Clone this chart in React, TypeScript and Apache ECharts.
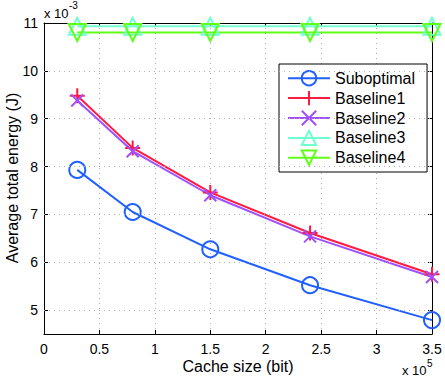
import React, { useEffect, useRef } from "react";
import * as echarts from "echarts";

const cacheSizes = [0.3, 0.8, 1.5, 2.4, 3.5];
const suboptimal = [7.93, 7.05, 6.27, 5.52, 4.79];
const baseline1 = [9.48, 8.39, 7.46, 6.61, 5.75];
const baseline2 = [9.38, 8.32, 7.4, 6.54, 5.69];
const baseline3 = [10.93, 10.93, 10.93, 10.93, 10.93];
const baseline4 = [10.8, 10.8, 10.8, 10.8, 10.8];
const seriesNames = ["Suboptimal", "Baseline1", "Baseline2", "Baseline3", "Baseline4"];
const xTicks = [0, 0.5, 1, 1.5, 2, 2.5, 3, 3.5];
const yTicks = [5, 6, 7, 8, 9, 10, 11];

const FONT = "Liberation Sans, Arial, Helvetica, sans-serif";

const PLUS = "path://M5,0L5,10M0,5L10,5";
const CROSS = "path://M0,0L10,10M10,0L0,10";

export default function App() {
  const ref = useRef<HTMLDivElement>(null);
  useEffect(() => {
    if (!ref.current) return;
    const chart = echarts.init(ref.current, null, { renderer: "svg" });
    const mk = (name: string, data: number[], color: string, symbol: string, size: number, rotate = 0) => ({
      name,
      type: "line",
      data: cacheSizes.map((x, i) => [x, data[i]]),
      symbol,
      symbolSize: size,
      symbolRotate: rotate,
      showAllSymbol: true,
      lineStyle: { color, width: 2 },
      itemStyle: { color: "rgba(0,0,0,0)", borderColor: color, borderWidth: 2 },
      emphasis: { disabled: true },
      z: 3,
    });
    const gridLine = { show: true, lineStyle: { color: "#b0b0b0", type: [1, 4], width: 1 } };
    const yAxisBase = {
      type: "value",
      min: 4.5,
      max: 11,
      axisLine: { onZero: false, lineStyle: { color: "#000", width: 1 } },
      axisTick: { inside: true, length: 4, lineStyle: { color: "#000" }, customValues: yTicks },
      splitLine: { show: false },
    };
    const txt = (text: string, x: number, y: number, size: number, align = "left") => ({
      type: "text",
      x,
      y,
      style: { text, fontSize: size, fontFamily: FONT, fill: "#000", align, verticalAlign: "middle" },
    });
    chart.setOption({
      animation: false,
      backgroundColor: "#ffffff",
      grid: { left: 44, right: 13, top: 23, bottom: 44, containLabel: false },
      xAxis: [
        {
          type: "value",
          min: xTicks[0],
          max: xTicks[xTicks.length - 1],
          interval: 0.5,
          axisLine: { onZero: false, lineStyle: { color: "#000", width: 1 } },
          axisTick: { inside: true, length: 4, lineStyle: { color: "#000" } },
          axisLabel: { color: "#000", fontSize: 14, fontFamily: FONT, margin: 8 },
          splitLine: gridLine,
        },
        {
          type: "value",
          position: "top",
          min: xTicks[0],
          max: xTicks[xTicks.length - 1],
          interval: 0.5,
          axisLine: { onZero: false, lineStyle: { color: "#000", width: 1 } },
          axisTick: { inside: true, length: 4, lineStyle: { color: "#000" } },
          axisLabel: { show: false },
          splitLine: { show: false },
        },
      ],
      yAxis: [
        {
          ...yAxisBase,
          axisLabel: {
            color: "#000",
            fontSize: 14,
            fontFamily: FONT,
            margin: 6,
            customValues: yTicks,
          },
        },
        {
          ...yAxisBase,
          position: "right",
          axisLabel: { show: false },
        },
      ],
      legend: {
        data: seriesNames,
        orient: "vertical",
        left: 279,
        top: 64,
        width: 143,
        padding: [6, 12, 6, 8],
        itemWidth: 42,
        itemHeight: 18,
        itemGap: 3.5,
        backgroundColor: "#fff",
        borderColor: "#000",
        borderWidth: 1,
        borderRadius: 0,
        textStyle: { color: "#000", fontSize: 16, fontFamily: FONT, padding: [0, 0, 0, 0] },
        selectedMode: false,
      },
      series: [
        {
          name: "_grid",
          type: "line",
          data: [],
          symbol: "none",
          z: 1,
          markLine: {
            silent: true,
            symbol: "none",
            label: { show: false },
            lineStyle: { color: "#b0b0b0", type: [1, 4], width: 1 },
            emphasis: { disabled: true },
            data: yTicks.slice(0, yTicks.length - 1).map((v) => ({ yAxis: v })),
          },
        },
        mk(seriesNames[0], suboptimal, "#2060ff", "circle", 16),
        mk(seriesNames[1], baseline1, "#ff1a40", PLUS, 15),
        mk(seriesNames[2], baseline2, "#a050ff", CROSS, 12),
        mk(seriesNames[3], baseline3, "#70ffd0", "triangle", 17),
        mk(seriesNames[4], baseline4, "#60ff18", "triangle", 17, 180),
      ],
      graphic: [
        {
          type: "text",
          x: 12,
          y: 178,
          rotation: Math.PI / 2,
          style: {
            text: "Average total energy (J)",
            fontSize: 16,
            fontFamily: FONT,
            fill: "#000",
            align: "center",
            verticalAlign: "middle",
          },
        },
        txt("Cache size (bit)", 238, 366, 16, "center"),
        txt("x 10", 44, 13, 13),
        txt("-3", 69, 5, 10),
        txt("x 10", 402, 370, 13),
        txt("5", 427, 363, 10),
      ],
    });
    return () => chart.dispose();
  }, []);
  return <div ref={ref} style={{ width: 445, height: 378, position: "absolute", left: 0, top: 0 }} />;
}
